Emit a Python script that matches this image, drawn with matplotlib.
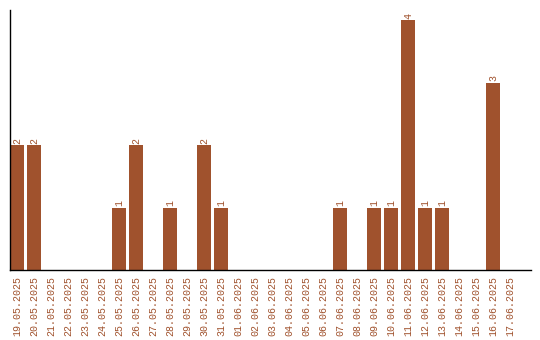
import matplotlib
matplotlib.use("Agg")
import matplotlib.pyplot as plt

dates = ["19.05.2025", "20.05.2025", "21.05.2025", "22.05.2025", "23.05.2025",
         "24.05.2025", "25.05.2025", "26.05.2025", "27.05.2025", "28.05.2025",
         "29.05.2025", "30.05.2025", "31.05.2025", "01.06.2025", "02.06.2025",
         "03.06.2025", "04.06.2025", "05.06.2025", "06.06.2025", "07.06.2025",
         "08.06.2025", "09.06.2025", "10.06.2025", "11.06.2025", "12.06.2025",
         "13.06.2025", "14.06.2025", "15.06.2025", "16.06.2025", "17.06.2025"]
counts = [2, 2, 0, 0, 0, 0, 1, 2, 0, 1,
          0, 2, 1, 0, 0, 0, 0, 0, 0, 1,
          0, 1, 1, 4, 1, 1, 0, 0, 3, 0]

color = "#A0522D"
font = "Liberation Mono"

fig = plt.figure(figsize=(5.4, 3.4), dpi=100)
ax = fig.add_axes([10 / 540, 70 / 340, 521 / 540, 260 / 340])

w = 14 / 17
x = list(range(len(dates)))
ax.bar(x, counts, width=w, color=color)
for xi, c in zip(x, counts):
    if c > 0:
        ax.text(xi, c + 0.02, str(c), rotation=90, ha="center", va="bottom",
                color=color, fontsize=7.2, family=font)

ax.set_xlim(-w / 2, -w / 2 + 521 / 17)
ax.set_ylim(0, 260 / 62.5)
ax.set_xticks(x)
ax.set_xticklabels(dates, rotation=90, color=color, fontsize=7.2, family=font)
ax.set_yticks([])
ax.tick_params(axis="x", length=0, pad=4)
for s in ["top", "right"]:
    ax.spines[s].set_visible(False)
ax.spines["left"].set_linewidth(1)
ax.spines["bottom"].set_linewidth(1)

fig.savefig("out.png", dpi=100)
